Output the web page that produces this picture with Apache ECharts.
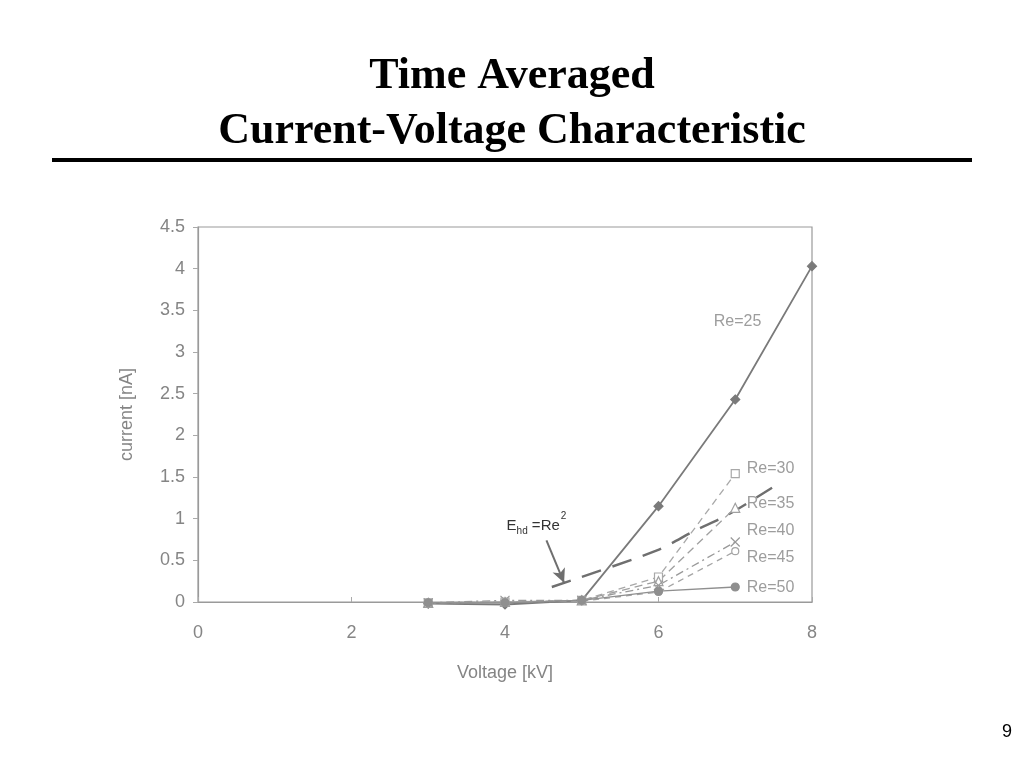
<!DOCTYPE html>
<html>
<head>
<meta charset="utf-8">
<style>
  html, body { margin: 0; padding: 0; background: #fff; }
  #chart { width: 1024px; height: 768px; }
</style>
<script src="https://cdn.jsdelivr.net/npm/echarts@6/dist/echarts.min.js"></script>
</head>
<body>
<div id="chart"></div>
<script>
// voltage in kV
const voltage = [3, 4, 5, 6, 7, 8]

// current in nA, one list per Reynolds number
const re25 = [-0.02, -0.03, 0.02, 1.15, 2.43, 4.03]
const re30 = [-0.01, 0.0, 0.02, 0.30, 1.54]
const re35 = [-0.01, 0.0, 0.02, 0.25, 1.13]
const re40 = [-0.01, 0.02, 0.02, 0.20, 0.72]
const re45 = [-0.01, 0.0, 0.01, 0.12, 0.61]
const re50 = [-0.01, -0.01, 0.02, 0.13, 0.18]

// E_hd = Re^2 guide curve
const ehdX = [4.61, 5.98, 6.48, 6.89, 7.48]
const ehdY = [0.18, 0.62, 0.86, 1.04, 1.37]

const xTicks = [0, 2, 4, 6, 8]
const yTicks = [0, 0.5, 1, 1.5, 2, 2.5, 3, 3.5, 4, 4.5]

// curve labels: text and anchor in data units
const curveLabels = [
  { text: 'Re=25', x: 6.72, y: 3.36 },
  { text: 'Re=30', x: 7.15, y: 1.6 },
  { text: 'Re=35', x: 7.15, y: 1.18 },
  { text: 'Re=40', x: 7.15, y: 0.86 },
  { text: 'Re=45', x: 7.15, y: 0.53 },
  { text: 'Re=50', x: 7.15, y: 0.17 }
]

const grey = '#858585'
const pair = (xs, ys) => ys.map((y, i) => [xs[i], y])

const chart = echarts.init(document.getElementById('chart'))

const lineSeries = (name, data, symbol, size, lineType, color, filled) => ({
  name: name,
  type: 'line',
  data: pair(voltage, data),
  symbol: symbol,
  symbolSize: size,
  showSymbol: true,
  clip: false,
  lineStyle: { color: color, width: 1.3, type: lineType },
  itemStyle: {
    color: filled ? color : '#fff',
    borderColor: color,
    borderWidth: 1.2
  },
  z: 3
})

chart.setOption({
  animation: false,
  backgroundColor: '#fff',
  textStyle: { fontFamily: 'Liberation Sans' },
  title: {
    text: 'Time Averaged\nCurrent-Voltage Characteristic',
    left: 'center',
    top: 44,
    textStyle: {
      fontFamily: 'Liberation Serif',
      fontWeight: 'bold',
      fontSize: 44,
      lineHeight: 55,
      color: '#000'
    }
  },
  grid: {
    left: 198,
    right: 212,
    top: 227,
    bottom: 166,
    show: true,
    borderColor: '#9a9a9a',
    borderWidth: 1.2
  },
  xAxis: {
    type: 'value',
    min: 0,
    max: 8,
    interval: 2,
    name: 'Voltage [kV]',
    nameLocation: 'middle',
    nameGap: 62,
    nameTextStyle: { color: grey, fontSize: 18 },
    axisLine: { onZero: false, lineStyle: { color: '#9a9a9a', width: 1.2 } },
    axisTick: { show: true, length: 5, inside: true, lineStyle: { color: '#aaa' } },
    axisLabel: {
      color: grey,
      fontSize: 18,
      margin: 22,
      formatter: v => xTicks.includes(v) ? String(v) : ''
    },
    splitLine: { show: false }
  },
  yAxis: {
    type: 'value',
    min: 0,
    max: 4.5,
    interval: 0.5,
    name: 'current [nA]',
    nameLocation: 'middle',
    nameGap: 62,
    nameTextStyle: { color: grey, fontSize: 18 },
    axisLine: { show: true, lineStyle: { color: '#9a9a9a', width: 1.2 } },
    axisTick: { show: true, length: 5, lineStyle: { color: '#aaa' } },
    axisLabel: {
      color: grey,
      fontSize: 18,
      margin: 13,
      formatter: v => yTicks.includes(v) ? String(v) : ''
    },
    splitLine: { show: false }
  },
  series: [
    Object.assign(lineSeries('Re=25', re25, 'diamond', 9, 'solid', '#7a7a7a', true), {
      lineStyle: { color: '#7a7a7a', width: 1.8 }
    }),
    lineSeries('Re=30', re30, 'rect', 8, [7, 5], '#a8a8a8', false),
    lineSeries('Re=35', re35, 'triangle', 9, [8, 5], '#a0a0a0', false),
    lineSeries('Re=40', re40, 'path://M0,0L10,10M10,0L0,10', 9, [8, 4, 2, 4], '#999', false),
    lineSeries('Re=45', re45, 'circle', 7, [6, 5], '#a4a4a4', false),
    lineSeries('Re=50', re50, 'circle', 8, 'solid', '#8f8f8f', true),
    {
      name: 'Ehd',
      type: 'line',
      data: pair(ehdX, ehdY),
      smooth: 0.3,
      symbol: 'none',
      lineStyle: { color: '#6f6f6f', width: 2.4, type: [20, 12] },
      z: 2,
      markLine: {
        silent: true,
        symbol: ['none', 'arrow'],
        symbolSize: [10, 14],
        lineStyle: { color: '#6f6f6f', width: 2, type: 'solid' },
        label: { show: false },
        data: [[{ coord: [4.54, 0.74] }, { coord: [4.77, 0.23] }]]
      },
      markPoint: {
        silent: true,
        symbol: 'circle',
        symbolSize: 0,
        data: [{
          coord: [4.41, 0.96],
          label: {
            show: true,
            formatter: '{e|E}{s|hd}{e| =Re}{p|2}',
            rich: {
              e: { fontSize: 15, color: '#333', verticalAlign: 'bottom' },
              s: { fontSize: 10, color: '#333', verticalAlign: 'bottom', padding: [0, 0, -3, 0] },
              p: { fontSize: 10, color: '#333', verticalAlign: 'top', padding: [0, 0, 12, 1] }
            }
          }
        }]
      }
    },
    {
      name: 'labels',
      type: 'scatter',
      symbolSize: 0,
      silent: true,
      data: curveLabels.map(l => ({
        value: [l.x, l.y],
        label: {
          show: true,
          position: 'right',
          distance: 0,
          formatter: l.text,
          color: grey,
          fontSize: 16
        }
      })),
      z: 5
    }
  ],
  graphic: [
    {
      type: 'rect',
      shape: { x: 52, y: 158, width: 920, height: 4 },
      style: { fill: '#000' }
    },
    {
      type: 'text',
      left: 1002,
      top: 723,
      style: { text: '9', fontSize: 18, fill: '#000', fontFamily: 'Liberation Sans' }
    }
  ]
})
</script>
</body>
</html>
